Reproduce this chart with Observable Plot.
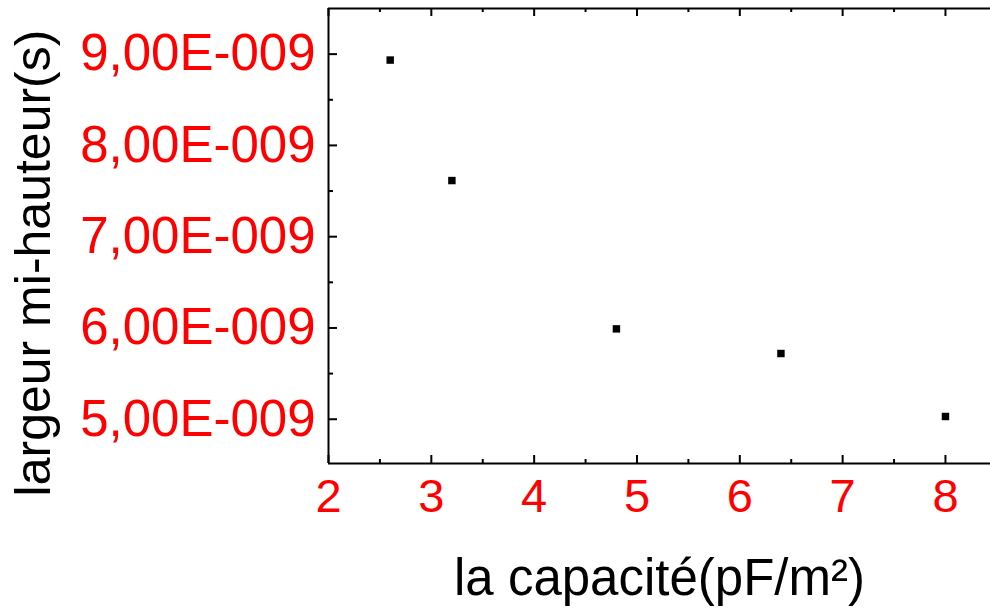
<!DOCTYPE html>
<html><head><meta charset="utf-8">
<script src="https://cdn.jsdelivr.net/npm/d3@7"></script>
<script src="https://cdn.jsdelivr.net/npm/@observablehq/plot@0.6"></script>
<style>body{margin:0;background:#fff}</style>
</head><body><div id="chart"></div>
<script>
const capacite = [2.6, 3.2, 4.8, 6.4, 8.0];
const largeur = [8.935e-9, 7.615e-9, 5.99e-9, 5.72e-9, 5.03e-9];
const xTicks = [2, 3, 4, 5, 6, 7, 8];
const xMinorTicks = [2.5, 3.5, 4.5, 5.5, 6.5, 7.5];
const yTicks = [5e-9, 6e-9, 7e-9, 8e-9, 9e-9];
const yMinorTicks = [5.5e-9, 6.5e-9, 7.5e-9, 8.5e-9];
const xDomain = [2, 8.438];
const yDomain = [4.515e-9, 9.5e-9];
const xTitle = "la capacité(pF/m²)";
const yTitle = "largeur mi-hauteur(s)";

function sci(d) {
  const e = Math.floor(Math.log10(Math.abs(d)) + 1e-9);
  const m = d / Math.pow(10, e);
  return m.toFixed(2).replace(".", ",") + "E" + (e < 0 ? "-" : "+") + String(Math.abs(e)).padStart(3, "0");
}

const data = capacite.map((c, i) => ({c, v: largeur[i]}));
const font = "'Liberation Sans', Arial, sans-serif";

const chart = Plot.plot({
  width: 990,
  height: 610,
  marginLeft: 328,
  marginRight: 0,
  marginTop: 8,
  marginBottom: 147,
  style: {fontFamily: font, background: "white", overflow: "visible"},
  x: {domain: xDomain},
  y: {domain: yDomain},
  marks: [
    Plot.axisX(xTicks, {anchor: "bottom", tickSize: 0, tickPadding: 15, color: "red", fontSize: 47, tickFormat: d => String(d), label: null}),
    Plot.axisY(yTicks, {anchor: "left", tickSize: 0, tickPadding: 13, color: "red", fontSize: 51, tickFormat: sci, label: null}),
    // axis lines (bottom, top, left)
    Plot.ruleY([yDomain[0], yDomain[1]], {stroke: "black", strokeWidth: 2}),
    Plot.ruleX([xDomain[0]], {stroke: "black", strokeWidth: 2}),
    // inward ticks bottom
    Plot.ruleX(xTicks, {y1: yDomain[0], y2: yDomain[0], insetTop: -8, stroke: "black", strokeWidth: 2}),
    Plot.ruleX(xMinorTicks, {y1: yDomain[0], y2: yDomain[0], insetTop: -4, stroke: "black", strokeWidth: 2}),
    // inward ticks top
    Plot.ruleX(xTicks, {y1: yDomain[1], y2: yDomain[1], insetBottom: -8, stroke: "black", strokeWidth: 2}),
    Plot.ruleX(xMinorTicks, {y1: yDomain[1], y2: yDomain[1], insetBottom: -4, stroke: "black", strokeWidth: 2}),
    // inward ticks left
    Plot.ruleY(yTicks, {x1: xDomain[0], x2: xDomain[0], insetRight: -9, stroke: "black", strokeWidth: 2}),
    Plot.ruleY(yMinorTicks, {x1: xDomain[0], x2: xDomain[0], insetRight: -5, stroke: "black", strokeWidth: 2}),
    // data
    Plot.dot(data, {x: "c", y: "v", symbol: "square", r: 4.2, fill: "black", stroke: "none"}),
    // titles
    Plot.text([yTitle], {text: d => d, frameAnchor: "left", dx: -295, dy: 27, rotate: -90, fontSize: 50, fill: "black", textAnchor: "middle", lineAnchor: "middle"}),
    Plot.text([xTitle], {text: d => d, frameAnchor: "bottom", dy: 131, fontSize: 51, fill: "black", textAnchor: "middle", lineAnchor: "bottom"})
  ]
});
document.getElementById("chart").appendChild(chart);
</script>
</body></html>
